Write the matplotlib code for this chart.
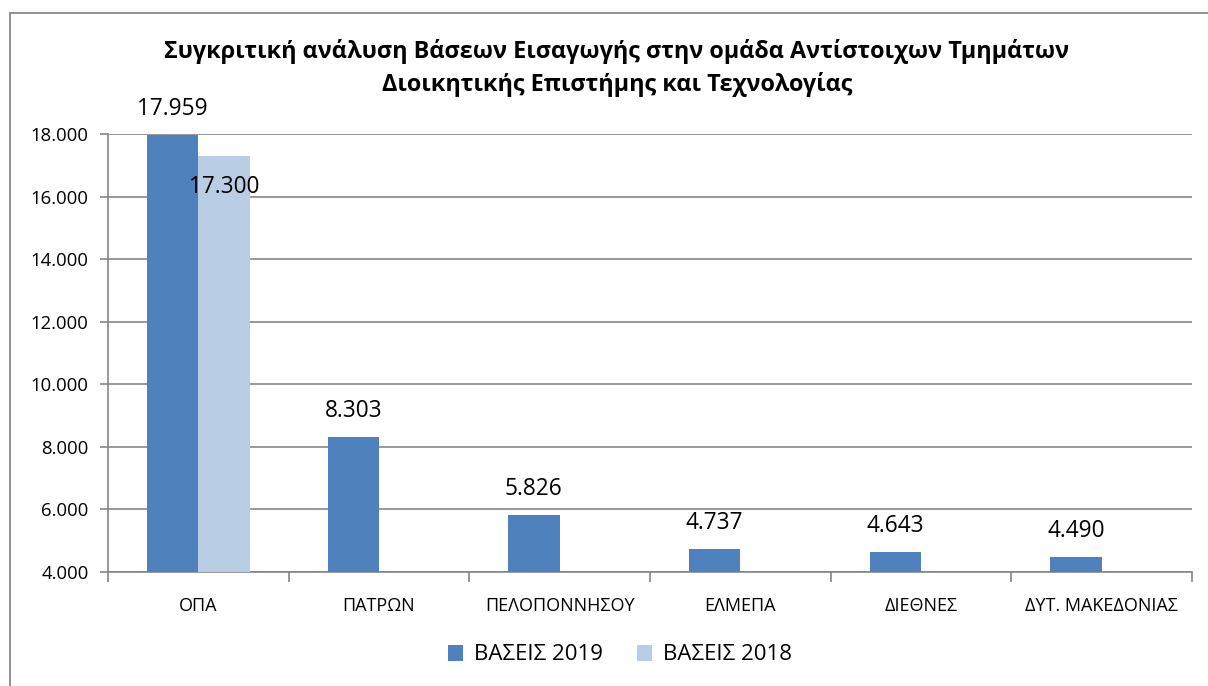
import matplotlib
matplotlib.use("Agg")
import matplotlib.pyplot as plt
from matplotlib.patches import Rectangle
from matplotlib.ticker import FuncFormatter, FixedLocator

plt.rcParams['font.family'] = ['Open Sans', 'DejaVu Sans']

categories = ["ΟΠΑ", "ΠΑΤΡΩΝ", "ΠΕΛΟΠΟΝΝΗΣΟΥ", "ΕΛΜΕΠΑ", "ΔΙΕΘΝΕΣ", "ΔΥΤ. ΜΑΚΕΔΟΝΙΑΣ"]
vaseis_2019 = [17959, 8303, 5826, 4737, 4643, 4490]
vaseis_2018 = [17300, None, None, None, None, None]
series_names = ["ΒΑΣΕΙΣ 2019", "ΒΑΣΕΙΣ 2018"]
title = "Συγκριτική ανάλυση Βάσεων Εισαγωγής στην ομάδα Αντίστοιχων Τμημάτων\nΔιοικητικής Επιστήμης και Τεχνολογίας"

c2019 = "#4F81BD"
c2018 = "#B9CDE5"
grid_c = "#868686"

W, H = 1208, 686
fig = plt.figure(figsize=(W / 100, H / 100), dpi=100)
ax = fig.add_axes([108 / W, (H - 572) / H, (1192 - 108) / W, (572 - 134) / H])

# outer chart border
fig.patches.append(Rectangle((10 / W, -0.1), 1.2, (H - 13) / H + 0.1, transform=fig.transFigure,
                             fill=False, edgecolor="#888888", linewidth=1.3, clip_on=False))

bw = 0.285
xs = list(range(len(categories)))
ax.bar([x - bw / 2 for x in xs], vaseis_2019, width=bw, color=c2019, label=series_names[0], zorder=3)
x18 = [x + bw / 2 for x, v in zip(xs, vaseis_2018) if v is not None]
v18 = [v for v in vaseis_2018 if v is not None]
ax.bar(x18, v18, width=bw, color=c2018, label=series_names[1], zorder=3)

def fmt(v):
    return f"{v:,.0f}".replace(",", ".")

for x, v in zip(xs, vaseis_2019):
    ax.annotate(fmt(v), (x - bw / 2, v), xytext=(0, 26 * 0.72), textcoords="offset points",
                ha="center", va="center", fontsize=16.3, color="#000000", annotation_clip=False, zorder=5)
for x, v in zip(x18, v18):
    ax.annotate(fmt(v), (x, v), xytext=(0, -31 * 0.72), textcoords="offset points",
                ha="center", va="center", fontsize=16.3, color="#000000", annotation_clip=False, zorder=5)

ax.set_ylim(4000, 18000)
ax.set_xlim(-0.5, len(categories) - 0.5)
ax.set_yticks(range(4000, 18001, 2000))
ax.yaxis.set_major_formatter(FuncFormatter(lambda v, p: fmt(v)))
ax.yaxis.grid(True, color=grid_c, linewidth=1.2, zorder=0)
ax.set_axisbelow(True)

ax.xaxis.set_major_locator(FixedLocator([i - 0.5 for i in range(len(categories) + 1)]))
ax.xaxis.set_minor_locator(FixedLocator(xs))
ax.set_xticklabels([""] * (len(categories) + 1))
ax.set_xticklabels(categories, minor=True)
ax.tick_params(axis="x", which="major", length=7, width=1.2, color=grid_c, direction="out")
ax.tick_params(axis="x", which="minor", length=0, pad=18, labelsize=13)
ax.tick_params(axis="y", length=6, width=1.2, color=grid_c, labelsize=13.3, pad=8)

for s in ["top", "right"]:
    ax.spines[s].set_visible(False)
for s in ["left", "bottom"]:
    ax.spines[s].set_color(grid_c)
    ax.spines[s].set_linewidth(1.2)

fig.text(617 / W, 1 - 68 / H, title, ha="center", va="center", fontsize=16.8, fontweight="bold",
         linespacing=1.45)

leg = fig.legend(loc="center", bbox_to_anchor=(620 / W, 1 - 655 / H), ncol=2, frameon=False,
                 fontsize=16, handlelength=0.7, handleheight=0.7, handletextpad=0.5, columnspacing=1.5)

fig.savefig("out.png", dpi=100)
